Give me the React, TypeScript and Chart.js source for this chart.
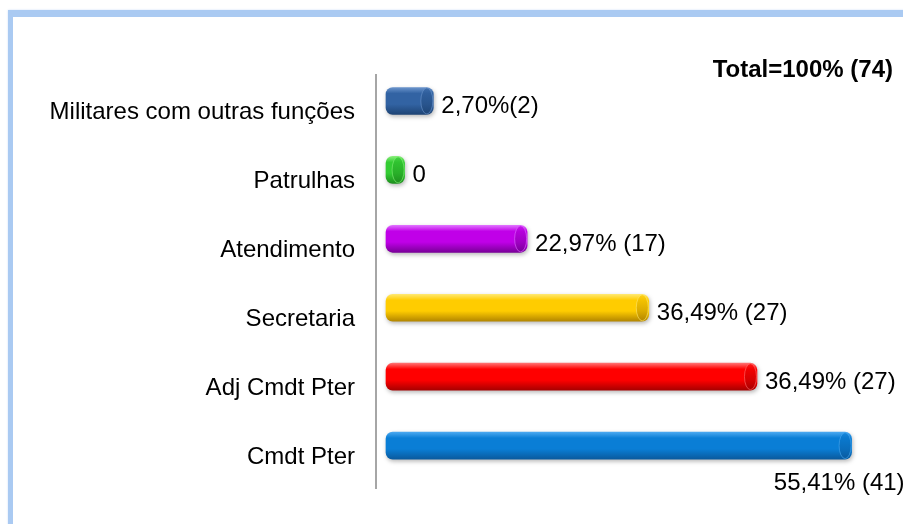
import React, { useEffect, useRef } from 'react';
import { Chart, registerables } from 'chart.js';

Chart.register(...registerables);

const categories = [
  'Militares com outras funções',
  'Patrulhas',
  'Atendimento',
  'Secretaria',
  'Adj Cmdt Pter',
  'Cmdt Pter',
];
// bar lengths as drawn in the picture (percent scale)
const barLengths = [5.6, 2.2, 16.7, 31.1, 43.9, 55.1];
const valueLabels = ['2,70%(2)', '0', '22,97% (17)', '36,49% (27)', '36,49% (27)', '55,41% (41)'];
const baseColors = ['#3263A3', '#33CC33', '#C000E8', '#FFCC00', '#FF0000', '#0A7ED6'];
const lightColors = ['#6A94CC', '#86EE78', '#E070FF', '#FFE870', '#FF7070', '#4AA8F0'];
const darkColors = ['#1E4475', '#1E8F1E', '#7A0099', '#B38600', '#A80000', '#0A5A9E'];
const totalLabel = 'Total=100% (74)';

const DX = 10;
const DY = -8.5;
const FONT = '"Liberation Sans", Arial, sans-serif';

const cylinderPlugin = {
  id: 'cylinder',
  beforeDatasetsDraw(chart: any) {
    const ctx = chart.ctx;
    ctx.save();
    ctx.translate(DX, DY);
    ctx.shadowColor = 'rgba(0,0,0,0.28)';
    ctx.shadowBlur = 4;
    ctx.shadowOffsetX = 1;
    ctx.shadowOffsetY = 2;
  },
  afterDatasetsDraw(chart: any) {
    const ctx = chart.ctx;
    ctx.shadowColor = 'rgba(0,0,0,0)';
    ctx.shadowBlur = 0;
    ctx.shadowOffsetX = 0;
    ctx.shadowOffsetY = 0;
    const meta = chart.getDatasetMeta(0);
    meta.data.forEach((el: any, i: number) => {
      const { x, y, base, height } = el.getProps(['x', 'y', 'base', 'height'], true);
      if (![x, y, base, height].every((v) => Number.isFinite(v))) return;
      const ry = height / 2 - 0.5;
      const rx = Math.min(6, Math.max(1, (x - base) / 2 - 1));
      const g = ctx.createLinearGradient(0, y - ry, 0, y + ry);
      g.addColorStop(0, baseColors[i]);
      g.addColorStop(1, darkColors[i]);
      ctx.beginPath();
      ctx.ellipse(x - rx - 0.5, y, rx, ry, 0, 0, Math.PI * 2);
      ctx.fillStyle = g;
      ctx.globalAlpha = 0.75;
      ctx.fill();
      ctx.globalAlpha = 0.6;
      ctx.strokeStyle = lightColors[i];
      ctx.lineWidth = 1;
      ctx.stroke();
      ctx.globalAlpha = 1;
    });
    ctx.restore();

    ctx.save();
    ctx.fillStyle = '#000';
    ctx.font = `24px ${FONT}`;
    ctx.textBaseline = 'alphabetic';
    const last = meta.data.length - 1;
    meta.data.forEach((el: any, i: number) => {
      const x = el.x + DX;
      const y = el.y + DY;
      if (i === last) {
        ctx.textAlign = 'right';
        ctx.fillText(valueLabels[i], x + 53, y + 44);
      } else {
        ctx.textAlign = 'left';
        ctx.fillText(valueLabels[i], x + 8, y + 12);
      }
    });
    ctx.font = `bold 24px ${FONT}`;
    ctx.textAlign = 'right';
    ctx.fillText(totalLabel, 893, 77);
    ctx.restore();
  },
};

export default function App() {
  const ref = useRef<HTMLCanvasElement | null>(null);
  useEffect(() => {
    if (!ref.current) return;
    const chart = new Chart(ref.current, {
      type: 'bar',
      data: {
        labels: categories,
        datasets: [
          {
            data: barLengths,
            barThickness: 27,
            borderSkipped: false,
            borderRadius: 7,
            borderWidth: 0,
            clip: false as any,
            backgroundColor: (c: any) => {
              const i = c.dataIndex;
              if (i === undefined || i === null) return baseColors[0];
              const chartRef = c.chart;
              const ys = chartRef.scales && chartRef.scales.y;
              const cy = ys ? ys.getPixelForValue(i) : NaN;
              if (!Number.isFinite(cy)) return baseColors[i];
              const g = chartRef.ctx.createLinearGradient(0, cy - 13.5, 0, cy + 13.5);
              g.addColorStop(0, lightColors[i]);
              g.addColorStop(0.22, baseColors[i]);
              g.addColorStop(0.62, baseColors[i]);
              g.addColorStop(1, darkColors[i]);
              return g;
            },
          },
        ],
      },
      options: {
        indexAxis: 'y',
        animation: false,
        responsive: false,
        maintainAspectRatio: false,
        layout: { padding: { top: 75, bottom: 32, right: 20, left: 0 } },
        plugins: {
          legend: { display: false },
          tooltip: { enabled: false },
          title: { display: false },
        },
        scales: {
          x: { display: false, min: 0, max: 60 },
          y: {
            grid: { display: false, drawTicks: false },
            border: { display: true, color: '#A6A6A6', width: 2 },
            ticks: {
              color: '#000',
              padding: 21,
              labelOffset: 3,
              font: { size: 24, family: FONT },
            },
            afterFit: (s: any) => {
              s.width = 376;
            },
          },
        },
      },
      plugins: [cylinderPlugin],
    });
    return () => chart.destroy();
  }, []);

  return (
    <div style={{ position: 'fixed', left: 0, top: 0, width: 903, height: 524, overflow: 'hidden', background: '#fff' }}>
      <div
        style={{
          position: 'absolute',
          left: 8,
          top: 10,
          width: 1200,
          height: 1000,
          borderTop: '7px solid #AACAF2',
          borderLeft: '5px solid #AACAF2',
          boxShadow: '0 0 2px #CFE0F8',
          boxSizing: 'border-box',
        }}
      />
      <canvas ref={ref} width={903} height={524} style={{ position: 'absolute', left: 0, top: 0 }} />
    </div>
  );
}
